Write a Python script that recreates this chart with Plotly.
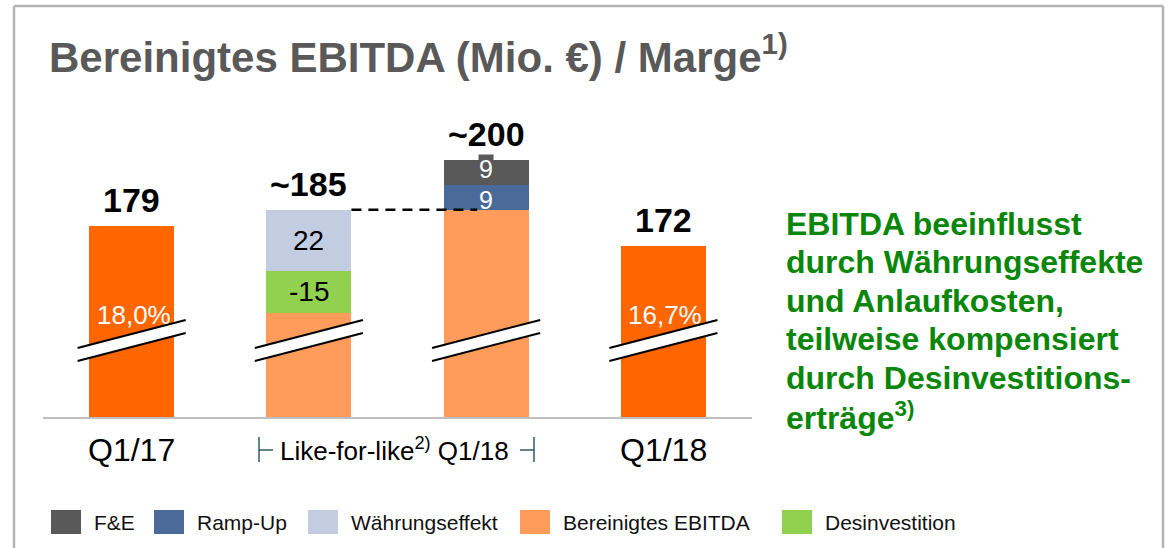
import plotly.graph_objects as go

# ---------------- data ----------------
categories = ["Q1/17", "Like-for-like Q1/18", "Like-for-like Q1/18 (inkl. Effekte)", "Q1/18"]
x_pos = [0, 1, 2, 3]
bereinigtes_ebitda = [179, 148, 185, 172]      # base bars (unlabelled parts estimated)
desinvestition = [None, -15, None, None]
waehrungseffekt = [None, 22, None, None]
ramp_up = [None, None, 9, None]
fue = [None, None, 9, None]
total_labels = ["179", "~185", "~200", "172"]
margin_labels = ["18,0%", None, None, "16,7%"]
x_labels = ["Q1/17", "Q1/18"]
mid_label = "Like-for-like<sup>2)</sup> Q1/18"
legend_names = ["F&E", "Ramp-Up", "Währungseffekt", "Bereinigtes EBITDA", "Desinvestition"]
side_text = ["EBITDA beeinflusst", "durch Währungseffekte", "und Anlaufkosten,",
             "teilweise kompensiert", "durch Desinvestitions-", "erträge<sup>3)</sup>"]
title_text = "Bereinigtes EBITDA (Mio. €) / Marge<sup>1)</sup>"

# ---------------- style ----------------
FONT = "Liberation Sans, Arial, sans-serif"
C_REPORTED = "#FF6600"
C_BASE = "#FF9C5B"
C_DES = "#92D050"
C_WAE = "#C3CDE1"
C_RAMP = "#4A6B9A"
C_FUE = "#595959"
C_GREEN_TXT = "#0A870A"
base_colors = [C_REPORTED, C_BASE, C_BASE, C_REPORTED]
BAR_W = 0.48

W, H = 1170, 548
L, R, T, B = 43, 752, 100, 417


def px(x):
    return (x - L) / (R - L)


def py(y):
    return (B - y) / (B - T)


def absn(arr):
    return [abs(v) if v is not None else None for v in arr]


series = [
    ("Bereinigtes EBITDA", bereinigtes_ebitda, base_colors, None),
    ("Desinvestition", desinvestition, C_DES, "black"),
    ("Währungseffekt", waehrungseffekt, C_WAE, "black"),
    ("Ramp-Up", ramp_up, C_RAMP, "white"),
    ("F&E", fue, C_FUE, "white"),
]
label_shift = {"Ramp-Up": -3, "F&E": 3}

fig = go.Figure()
for name, vals, col, _ in series:
    fig.add_trace(go.Bar(x=x_pos, y=absn(vals), name=name, marker=dict(color=col, line=dict(width=0)),
                         width=BAR_W, showlegend=False, hoverinfo="name+y"))

annotations = []
cum = [0.0] * 4
for name, vals, col, tcol in series:
    for i, v in enumerate(vals):
        if v is None:
            continue
        h = abs(v)
        if tcol is not None:
            small = name in ("Ramp-Up", "F&E")
            ann = dict(x=x_pos[i], y=cum[i] + h / 2, xref="x", yref="y", text=str(v), showarrow=False,
                       font=dict(family=FONT, size=25 if small else 28, color=tcol),
                       xanchor="center", yanchor="middle", borderpad=0,
                       yshift=label_shift.get(name, 0))
            if name == "F&E":
                ann["bgcolor"] = C_FUE
            annotations.append(ann)
        cum[i] += h
totals = cum

# total labels above bars
for i, t in enumerate(totals):
    annotations.append(dict(x=x_pos[i], y=t, xref="x", yref="y", text="<b>%s</b>" % total_labels[i],
                            showarrow=False, yshift=26, xanchor="center", yanchor="middle",
                            font=dict(family=FONT, size=34, color="black")))

# margin labels inside bars
for i, m in enumerate(margin_labels):
    if m:
        annotations.append(dict(x=x_pos[i], y=py(315), xref="x", yref="paper", text=m, showarrow=False,
                                xanchor="center", yanchor="middle", xshift=2,
                                font=dict(family=FONT, size=26, color="white")))

# dashed connector (like-for-like level)
fig.add_trace(go.Scatter(x=[x_pos[1] + BAR_W / 2, x_pos[2] - 0.05], y=[totals[1], totals[1]], mode="lines",
                         line=dict(color="black", width=2.5, dash="10px,7px"), showlegend=False,
                         hoverinfo="skip"))

# x labels
annotations.append(dict(x=x_pos[0], y=py(450), xref="x", yref="paper", text=x_labels[0], showarrow=False,
                        xanchor="center", yanchor="middle", font=dict(family=FONT, size=32, color="black")))
annotations.append(dict(x=x_pos[3], y=py(450), xref="x", yref="paper", text=x_labels[1], showarrow=False,
                        xanchor="center", yanchor="middle", font=dict(family=FONT, size=32, color="black")))
annotations.append(dict(x=(x_pos[1] + x_pos[2]) / 2, y=py(449), xref="x", yref="paper", text=mid_label,
                        showarrow=False, xanchor="center", yanchor="middle", xshift=-3,
                        font=dict(family=FONT, size=26, color="black")))

# title
annotations.append(dict(x=px(47), y=py(54), xref="paper", yref="paper", text="<b>%s</b>" % title_text,
                        showarrow=False, xanchor="left", yanchor="middle",
                        font=dict(family=FONT, size=42, color="#595959")))

# side text
for k, line in enumerate(side_text):
    annotations.append(dict(x=px(784), y=py(224 + 38.4 * k), xref="paper", yref="paper",
                            text="<b>%s</b>" % line, showarrow=False, xanchor="left", yanchor="middle",
                            font=dict(family=FONT, size=32, color=C_GREEN_TXT)))

shapes = []
# axis-break markers
for i in x_pos:
    x0, x1 = i - 0.305, i + 0.305
    shapes.append(dict(type="path", xref="x", yref="paper",
                       path="M %f,%f L %f,%f L %f,%f L %f,%f Z" % (x0, py(348), x1, py(320), x1, py(333), x0, py(361)),
                       fillcolor="white", line=dict(width=0), layer="above"))
    for yl, yr in [(348, 320), (361, 333)]:
        shapes.append(dict(type="line", xref="x", yref="paper", x0=x0, y0=py(yl), x1=x1, y1=py(yr),
                           line=dict(color="black", width=2), layer="above"))

# brackets around like-for-like label
BR = "#2F5A6A"
shapes += [
    dict(type="line", xref="paper", yref="paper", x0=px(259), x1=px(259), y0=py(437), y1=py(462),
         line=dict(color=BR, width=1.5)),
    dict(type="line", xref="paper", yref="paper", x0=px(259), x1=px(273), y0=py(450), y1=py(450),
         line=dict(color=BR, width=1.5)),
    dict(type="line", xref="paper", yref="paper", x0=px(534), x1=px(534), y0=py(437), y1=py(462),
         line=dict(color=BR, width=1.5)),
    dict(type="line", xref="paper", yref="paper", x0=px(520), x1=px(534), y0=py(450), y1=py(450),
         line=dict(color=BR, width=1.5)),
]

# frame
FR = "#B4B4B4"
shapes += [
    dict(type="line", xref="paper", yref="paper", x0=px(14), x1=px(1163), y0=py(6), y1=py(6),
         line=dict(color=FR, width=2.5)),
    dict(type="line", xref="paper", yref="paper", x0=px(14), x1=px(14), y0=py(6), y1=py(548),
         line=dict(color=FR, width=2.5)),
    dict(type="line", xref="paper", yref="paper", x0=px(1163), x1=px(1163), y0=py(6), y1=py(548),
         line=dict(color=FR, width=2.5)),
]

# manual legend
leg_colors = {"F&E": C_FUE, "Ramp-Up": C_RAMP, "Währungseffekt": C_WAE,
              "Bereinigtes EBITDA": C_BASE, "Desinvestition": C_DES}
leg_x = [51, 154, 308, 520, 782]
for name, lx in zip(legend_names, leg_x):
    shapes.append(dict(type="rect", xref="paper", yref="paper", x0=px(lx), x1=px(lx + 30),
                       y0=py(510), y1=py(534), fillcolor=leg_colors[name], line=dict(width=0)))
    annotations.append(dict(x=px(lx + 41), y=py(522), xref="paper", yref="paper", text=name, showarrow=False,
                            xanchor="left", yanchor="middle", font=dict(family=FONT, size=21, color="#111111")))

fig.update_layout(
    width=W, height=H,
    margin=dict(l=L, r=W - R, t=T, b=H - B, pad=0),
    barmode="stack",
    bargap=0,
    paper_bgcolor="white", plot_bgcolor="white",
    font=dict(family=FONT),
    xaxis=dict(range=[-0.5, 3.5], showline=True, linecolor="#BFBFBF", linewidth=2, showgrid=False,
               zeroline=False, showticklabels=False, ticks="", fixedrange=True),
    yaxis=dict(range=[110.4, 224.55], visible=False, showgrid=False, zeroline=False, fixedrange=True),
    annotations=annotations,
    shapes=shapes,
)

fig.write_html("out.html", config={"displayModeBar": False},
               post_script="document.body.style.margin='0';document.body.style.overflow='hidden';")
